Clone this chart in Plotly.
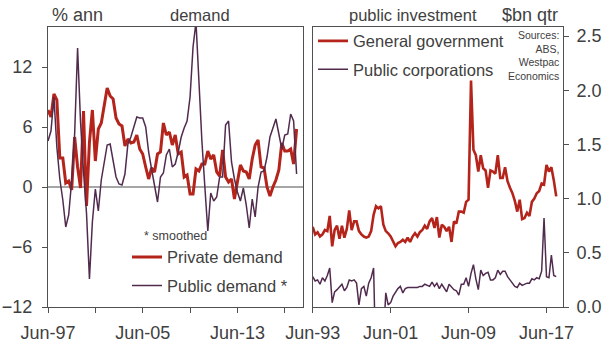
import pandas as pd
import plotly.graph_objects as go

# ---- Demand growth, % annual (quarterly, Jun-97 to Jun-18) ----
demand_start = "1997-06-01"
private_demand = [
    7.7, 7.0, 9.3, 8.7, 2.9, 2.9, 0.4, 0.6, -0.3, 5.0,
    2.0, -0.1, 7.6, -1.9, 4.5, 7.7, 2.6, 5.8, 6.4, 8.0,
    9.9, 9.1, 8.8, 6.9, 6.3, 6.1, 4.1, 4.8, 4.4, 4.5,
    5.2, 3.8, 3.3, 2.0, 0.8, 1.9, 1.5, 3.3, 3.5, 6.4,
    5.2, 5.5, 4.2, 5.2, 3.3, 3.5, 1.0, 1.2, -0.7, -0.7,
    1.8, 1.6, 2.3, 2.3, 3.6, 2.8, 3.2, 1.5, 1.1, 3.7,
    1.0, 0.5, 0.8, -1.2, 0.4, 2.2, 1.6, 1.5, 0.8, 2.8,
    4.2, 4.7, 2.0, 1.9, 0.0, -0.9, 0.0, 0.7, 1.7, 4.4,
    3.6, 3.6, 3.8, 2.3, 5.8,
]
public_demand = [
    4.6, 5.6, 9.0, 4.0, 0.8, -1.3, -4.0, -2.8, 0.6, 5.3,
    13.9, 6.5, 1.5, -2.6, -9.2, -3.5, -0.2, -2.4, 0.7, 2.3,
    4.2, 4.3, 2.6, 1.0, 0.3, 0.2, 1.3, 4.3, 5.0, 6.0,
    7.0, 6.9, 6.9, 6.0, 3.5, 1.8, 0.3, -1.5, 1.0, 1.4,
    3.2, 3.8, 2.0, 2.3, 3.5, 5.0, 5.9, 6.6, 9.0, 14.0,
    16.5, 10.0, 4.6, 0.0, -4.4, -0.6, -1.4, -1.0, 1.0, 1.0,
    6.2, 6.6, 2.5, 0.8, -0.5, -1.4, -0.1, -1.8, -4.1, -1.2,
    -3.0, 0.0, 1.5, 1.6, 3.0, 5.0, 5.8, 6.8, 5.3, 3.8,
    5.2, 5.3, 7.3, 6.6, 1.3,
]

# ---- Public investment, $bn per quarter (Jun-93 to Jun-18) ----
invest_start = "1993-06-01"
general_government = [
    0.74, 0.67, 0.69, 0.65, 0.67, 0.71, 0.70, 0.84, 0.56, 0.71,
    0.75, 0.63, 0.75, 0.64, 0.72, 0.89, 0.71, 0.79, 0.79, 0.70,
    0.67, 0.65, 0.64, 0.65, 0.70, 0.85, 0.93, 0.91, 0.93, 0.76,
    0.70, 0.68, 0.65, 0.60, 0.56, 0.59, 0.60, 0.62, 0.60, 0.64,
    0.60, 0.65, 0.68, 0.65, 0.69, 0.71, 0.75, 0.72, 0.79, 0.82,
    0.73, 0.83, 0.64, 0.76, 0.74, 0.70, 0.74, 0.60, 0.79, 0.77,
    0.88, 0.88, 0.87, 0.97, 0.99, 2.09, 1.45, 1.40, 1.25, 1.40,
    1.28, 1.26, 1.10, 1.26, 1.25, 1.23, 1.40, 1.19, 1.19, 1.29,
    1.16, 1.10, 1.05, 0.98, 0.88, 0.99, 0.81, 0.82, 0.87, 0.84,
    0.97, 1.00, 1.05, 1.07, 1.14, 1.13, 1.31, 1.25, 1.29, 1.17,
    1.02,
]
public_corporations = [
    0.28, 0.24, 0.25, 0.21, 0.27, 0.24, 0.29, 0.36, 0.04, 0.14,
    0.16, 0.19, 0.21, 0.15, 0.18, 0.25, 0.24, 0.25, 0.22, 0.02,
    0.17, 0.19, 0.10, 0.22, 0.27, 0.36, -0.60, -0.40, -0.50, -0.30,
    0.13, 0.02, 0.04, 0.10, 0.14, 0.17, 0.19, 0.13, 0.17, 0.18,
    0.18, 0.18, 0.18, 0.18, 0.19, 0.19, 0.21, 0.20, 0.19, 0.23,
    0.19, 0.22, 0.17, 0.21, 0.17, 0.14, 0.21, 0.18, 0.16, 0.15,
    0.11, 0.21, 0.21, 0.27, 0.19, 0.31, 0.39, 0.26, 0.16, 0.34,
    0.29, 0.31, 0.32, 0.25, 0.25, 0.27, 0.34, 0.30, 0.33, 0.33,
    0.28, 0.25, 0.22, 0.19, 0.18, 0.22, 0.20, 0.21, 0.22, 0.22,
    0.26, 0.25, 0.27, 0.26, 0.33, 0.82, 0.28, 0.27, 0.48, 0.29,
    0.28,
]

# ---- Tick labels ----
left_x_ticks = ["1997-06-01", "2001-06-01", "2005-06-01", "2009-06-01", "2013-06-01", "2017-06-01"]
left_x_labels = ["Jun-97", "", "Jun-05", "", "Jun-13", ""]
right_x_ticks = ["1993-06-01", "2001-06-01", "2009-06-01", "2017-06-01"]
right_x_labels = ["Jun-93", "Jun-01", "Jun-09", "Jun-17"]
left_y_ticks = [-12, -6, 0, 6, 12]
right_y_ticks = [0.0, 0.5, 1.0, 1.5, 2.0, 2.5]

demand_dates = pd.date_range(demand_start, periods=len(private_demand), freq="3MS")
invest_dates = pd.date_range(invest_start, periods=len(general_government), freq="3MS")

RED = "#B4241B"
PURPLE = "#512B4E"
TEXT = "#404040"
AXIS = "#505050"
FONT = "Liberation Sans, Arial, sans-serif"

fig = go.Figure()

fig.add_trace(go.Scatter(
    x=demand_dates, y=private_demand, name="Private demand", mode="lines",
    line=dict(color=RED, width=3), xaxis="x", yaxis="y",
    legend="legend", legendgroup="a",
))
fig.add_trace(go.Scatter(
    x=demand_dates, y=public_demand, name="Public demand *", mode="lines",
    line=dict(color=PURPLE, width=1.5), xaxis="x", yaxis="y",
    legend="legend", legendgroup="b",
))
fig.add_trace(go.Scatter(
    x=invest_dates, y=general_government, name="General government", mode="lines",
    line=dict(color=RED, width=2.6), xaxis="x2", yaxis="y2",
    legend="legend2", legendgroup="c",
))
fig.add_trace(go.Scatter(
    x=invest_dates, y=public_corporations, name="Public corporations", mode="lines",
    line=dict(color=PURPLE, width=1.5), xaxis="x2", yaxis="y2",
    legend="legend2", legendgroup="d",
))

tick_font = dict(family=FONT, size=18, color=TEXT)

fig.update_layout(
    width=604, height=343,
    margin=dict(l=48, r=41, t=27, b=36, autoexpand=False),
    paper_bgcolor="white", plot_bgcolor="white",
    font=dict(family=FONT, color=TEXT),
    xaxis=dict(
        domain=[0, 0.4951], type="date", automargin=False,
        range=["1997-06-01", "2018-12-15"],
        tickvals=left_x_ticks, ticktext=left_x_labels,
        ticks="outside", ticklen=5, tickcolor=AXIS, tickfont=tick_font,
        ticklabelstandoff=4,
        showline=True, linecolor=AXIS, linewidth=1, mirror=True,
        showgrid=False, zeroline=False, anchor="y",
    ),
    yaxis=dict(
        domain=[0, 1], range=[-12, 16], automargin=False,
        tickvals=left_y_ticks,
        ticks="outside", ticklen=5, tickcolor=AXIS, tickfont=tick_font,
        ticklabelstandoff=6,
        showline=True, linecolor=AXIS, linewidth=1, mirror=True,
        showgrid=False, zeroline=True, zerolinecolor="#A6A6A6", zerolinewidth=2,
        anchor="x",
    ),
    xaxis2=dict(
        domain=[0.514, 1], type="date", automargin=False,
        range=["1993-06-01", "2019-02-10"],
        tickvals=right_x_ticks, ticktext=right_x_labels,
        ticks="outside", ticklen=5, tickcolor=AXIS, tickfont=tick_font,
        ticklabelstandoff=4,
        showline=True, linecolor=AXIS, linewidth=1, mirror=True,
        showgrid=False, zeroline=False, anchor="y2",
    ),
    yaxis2=dict(
        domain=[0, 1], range=[0, 2.583], side="right", automargin=False,
        tickvals=right_y_ticks, tickformat=".1f",
        ticks="outside", ticklen=5, tickcolor=AXIS, tickfont=tick_font,
        ticklabelstandoff=4,
        showline=True, linecolor=AXIS, linewidth=1, mirror=True,
        showgrid=False, zeroline=False, anchor="x2",
    ),
    legend=dict(
        x=0.1534, y=0.240, xanchor="left", yanchor="top",
        bgcolor="rgba(0,0,0,0)", tracegroupgap=4,
        font=dict(family=FONT, size=16.5, color=TEXT),
    ),
    legend2=dict(
        x=0.5146, y=1.0118, xanchor="left", yanchor="top",
        bgcolor="rgba(0,0,0,0)", tracegroupgap=4,
        font=dict(family=FONT, size=16.5, color=TEXT),
    ),
    annotations=[
        dict(text="% ann", x=0.004, y=1.0446, xref="paper", yref="paper",
             xanchor="left", yanchor="middle", showarrow=False,
             font=dict(family=FONT, size=18, color=TEXT)),
        dict(text="demand", x=0.2946, y=1.0446, xref="paper", yref="paper",
             xanchor="center", yanchor="middle", showarrow=False,
             font=dict(family=FONT, size=16.5, color=TEXT)),
        dict(text="public investment", x=0.7093, y=1.0446, xref="paper", yref="paper",
             xanchor="center", yanchor="middle", showarrow=False,
             font=dict(family=FONT, size=16.5, color=TEXT)),
        dict(text="$bn qtr", x=0.994, y=1.0446, xref="paper", yref="paper",
             xanchor="right", yanchor="middle", showarrow=False,
             font=dict(family=FONT, size=18, color=TEXT)),
        dict(text="* smoothed", x=0.1825, y=0.2519, xref="paper", yref="paper",
             xanchor="left", yanchor="middle", showarrow=False,
             font=dict(family=FONT, size=12.5, color=TEXT)),
        dict(text="Sources:<br>ABS,<br>Westpac<br>Economics", x=0.996, y=1.0,
             xref="paper", yref="paper", xanchor="right", yanchor="top",
             align="right", showarrow=False,
             font=dict(family=FONT, size=10.5, color=TEXT)),
    ],
)

fig.write_html("out.html", config={"displayModeBar": False})
